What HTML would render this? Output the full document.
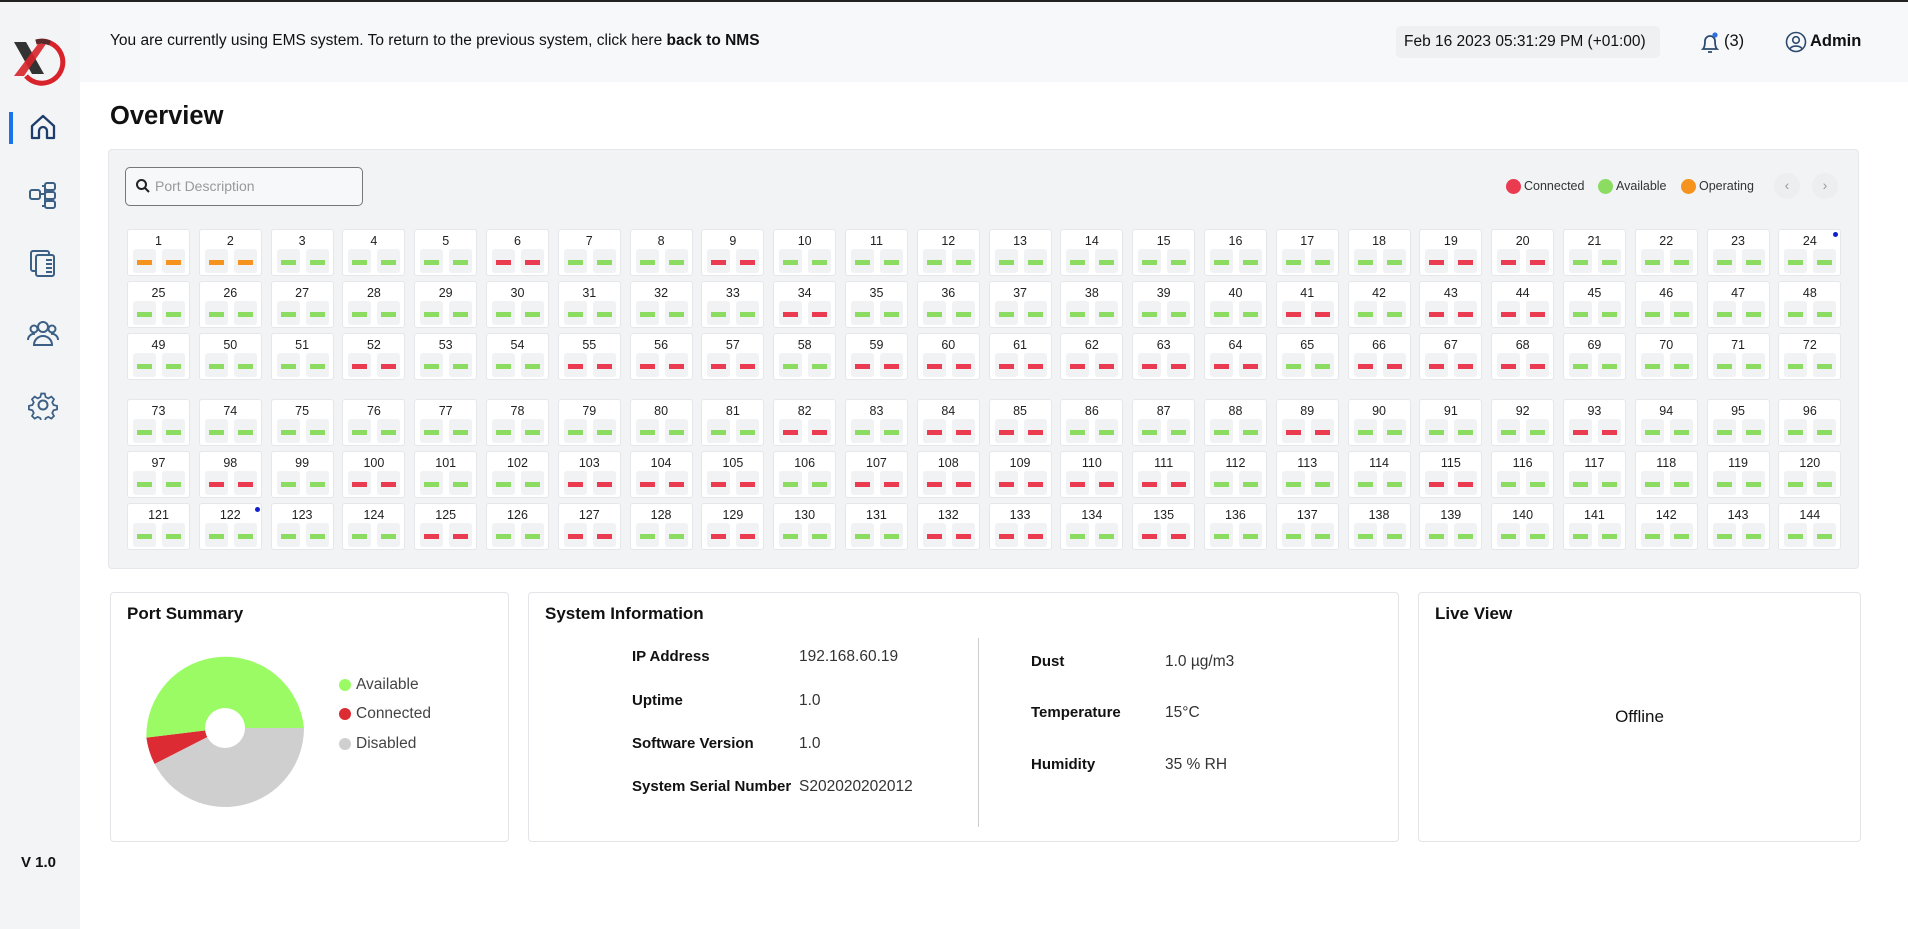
<!DOCTYPE html>
<html><head><meta charset="utf-8"><style>
*{box-sizing:border-box;margin:0;padding:0}
body{width:1908px;height:927px;overflow:hidden;background:#fff;font-family:"Liberation Sans",sans-serif;color:#111;position:relative;border-top:2px solid #222}
.side{position:absolute;left:0;top:0;width:80px;height:927px;background:#f3f4f6}
.top{position:absolute;left:80px;top:0;width:1828px;height:80px;background:#f7f8fa}
.abs{position:absolute}
.grid{position:absolute;left:127px;display:grid;grid-template-columns:repeat(24,63px);column-gap:8.8px}
.c{position:relative;width:63px;height:47px;background:#fff;border:1px solid #e6e7ea;border-radius:3px;font-size:12.5px;text-align:center;padding-top:4px;color:#222}
.c i{position:absolute;top:19px;width:23px;height:24px;background:#f1f2f4;border-radius:3px}
.c i:nth-of-type(1){left:5px}.c i:nth-of-type(2){left:34px}
.c i::after{content:"";position:absolute;left:4px;top:11px;width:15px;height:5px;background:#8cdc62}
.c.r i::after{background:#ea3b50}.c.o i::after{background:#f5931e}
.panel{position:absolute;background:#fff;border:1px solid #e3e4e7;border-radius:4px}
.h{position:absolute;font-size:17px;font-weight:bold}
.t{position:absolute;font-size:15.5px}
.b{font-weight:bold}
</style></head><body>
<div class="side"></div>
<div class="top"></div>
<svg class="abs" style="left:12px;top:34px" width="56" height="50" viewBox="0 0 56 50">
<path d="M24 6 A21 21 0 1 1 14 40" fill="none" stroke="#d8232a" stroke-width="5"/>
<path d="M24 6 A21 21 0 0 1 38 7" fill="none" stroke="#5a2a2a" stroke-width="5"/>
<path d="M2 6 L14 6 L32 38 L20 38 Z" fill="#333"/>
<path d="M26 8 L34 8 L12 40 L2 40 Z" fill="#d8232a" opacity=".9"/>
</svg>
<div class="abs" style="left:9px;top:110px;width:4px;height:32px;background:#1a73e8"></div>
<svg class="abs" style="left:28px;top:110px" width="30" height="30" viewBox="0 0 30 30"><path d="M4 14 L15 4 L26 14 V26 H19 V19 a4 4 0 0 0 -8 0 V26 H4 Z" fill="none" stroke="#1f3d6b" stroke-width="2.3" stroke-linejoin="round"/></svg>
<svg class="abs" style="left:28px;top:178px" width="30" height="30" viewBox="0 0 30 30" fill="none" stroke="#3b5f85" stroke-width="2"><rect x="2" y="10" width="10" height="9" rx="2"/><rect x="17" y="3" width="10" height="7" rx="2"/><rect x="17" y="12" width="10" height="7" rx="2"/><rect x="17" y="21" width="10" height="7" rx="2"/><path d="M12 14 H17 M14 6 H17 V26 H14"/></svg>
<svg class="abs" style="left:28px;top:246px" width="30" height="30" viewBox="0 0 30 30" fill="none" stroke="#3b5f85" stroke-width="2"><rect x="3" y="3" width="18" height="20" rx="2"/><rect x="8" y="7" width="18" height="21" rx="2" fill="#f3f4f6"/><path d="M18 12 H24 M18 16 H24 M18 20 H24 M18 24 H24"/></svg>
<svg class="abs" style="left:26px;top:316px" width="34" height="30" viewBox="0 0 34 30" fill="none" stroke="#3b5f85" stroke-width="2"><circle cx="17" cy="9" r="5"/><path d="M8 27 a9 9 0 0 1 18 0 Z"/><circle cx="8" cy="11" r="3.5"/><circle cx="26" cy="11" r="3.5"/><path d="M2 22 a6 6 0 0 1 7 -6 M32 22 a6 6 0 0 0 -7 -6"/></svg>
<svg class="abs" style="left:28px;top:388px" width="30" height="30" viewBox="0 0 30 30" fill="none" stroke="#3b5f85" stroke-width="2"><circle cx="15" cy="15" r="4.5"/><path d="M13 2 h4 l1 4 l3 1.5 l3.5-2 l3 3 l-2 3.5 l1.5 3 l4 1 v4 l-4 1 l-1.5 3 l2 3.5 l-3 3 l-3.5-2 l-3 1.5 l-1 4 h-4 l-1-4 l-3-1.5 l-3.5 2 l-3-3 l2-3.5 l-1.5-3 l-4-1 v-4 l4-1 l1.5-3 l-2-3.5 l3-3 l3.5 2 l3-1.5 Z" transform="translate(15 15) scale(.88) translate(-15 -15)"/></svg>
<div class="t b" style="left:21px;top:852px;font-size:15px">V 1.0</div>

<div class="t" style="left:110px;top:30px;font-size:15.5px">You are currently using EMS system. To return to the previous system, click here <b>back to NMS</b></div>
<div class="abs" style="left:1396px;top:24px;width:264px;height:32px;background:#eef0f2;border-radius:5px;font-size:15.5px;padding:7px 0 0 8px">Feb 16 2023 05:31:29 PM (+01:00)</div>
<svg class="abs" style="left:1698px;top:29px" width="24" height="24" viewBox="0 0 24 24" fill="none" stroke="#2d4a6e" stroke-width="1.8"><path d="M5 18 Q7 16 7 10 a5 5 0 0 1 10 0 Q17 16 19 18 Z M10 21 h4"/><circle cx="17" cy="4" r="2.6" fill="#2f6fe4" stroke="none"/></svg>
<div class="t" style="left:1724px;top:30px;font-size:16.5px">(3)</div>
<svg class="abs" style="left:1785px;top:29px" width="22" height="22" viewBox="0 0 22 22" fill="none" stroke="#2d4a6e" stroke-width="1.6"><circle cx="11" cy="11" r="9.5"/><circle cx="11" cy="9" r="3.3"/><path d="M5 17.5 a7 5 0 0 1 12 0"/></svg>
<div class="t b" style="left:1810px;top:30px;font-size:16.5px">Admin</div>

<div class="h" style="left:110px;top:100px;font-size:25.5px">Overview</div>

<div class="abs" style="left:108px;top:147px;width:1751px;height:420px;background:#f2f3f5;border:1px solid #e6e7ea;border-radius:4px"></div>
<div class="abs" style="left:125px;top:165px;width:238px;height:39px;border:1.5px solid #777;border-radius:5px;background:#f7f8f9"></div>
<svg class="abs" style="left:135px;top:176px" width="16" height="16" viewBox="0 0 16 16" fill="none" stroke="#222" stroke-width="2"><circle cx="6.5" cy="6.5" r="4.5"/><path d="M10 10 L14 14"/></svg>
<div class="t" style="left:155px;top:176px;font-size:14px;color:#999">Port Description</div>
<div class="abs" style="left:1506px;top:177px;width:15px;height:15px;border-radius:50%;background:#ea3b50"></div>
<div class="t" style="left:1524px;top:177px;font-size:12.5px;color:#333">Connected</div>
<div class="abs" style="left:1598px;top:177px;width:15px;height:15px;border-radius:50%;background:#8cdc62"></div>
<div class="t" style="left:1616px;top:177px;font-size:12.5px;color:#333">Available</div>
<div class="abs" style="left:1681px;top:177px;width:15px;height:15px;border-radius:50%;background:#f5931e"></div>
<div class="t" style="left:1699px;top:177px;font-size:12.5px;color:#333">Operating</div>
<div class="abs" style="left:1774px;top:171px;width:26px;height:26px;border-radius:50%;background:#eceef0;color:#999;font-size:14px;text-align:center;line-height:25px">‹</div>
<div class="abs" style="left:1812px;top:171px;width:26px;height:26px;border-radius:50%;background:#eceef0;color:#999;font-size:14px;text-align:center;line-height:25px">›</div>

<div class="grid" style="top:227px;row-gap:5px">
<div class="c o">1<i></i><i></i></div><div class="c o">2<i></i><i></i></div><div class="c">3<i></i><i></i></div><div class="c">4<i></i><i></i></div><div class="c">5<i></i><i></i></div><div class="c r">6<i></i><i></i></div><div class="c">7<i></i><i></i></div><div class="c">8<i></i><i></i></div><div class="c r">9<i></i><i></i></div><div class="c">10<i></i><i></i></div><div class="c">11<i></i><i></i></div><div class="c">12<i></i><i></i></div><div class="c">13<i></i><i></i></div><div class="c">14<i></i><i></i></div><div class="c">15<i></i><i></i></div><div class="c">16<i></i><i></i></div><div class="c">17<i></i><i></i></div><div class="c">18<i></i><i></i></div><div class="c r">19<i></i><i></i></div><div class="c r">20<i></i><i></i></div><div class="c">21<i></i><i></i></div><div class="c">22<i></i><i></i></div><div class="c">23<i></i><i></i></div><div class="c">24<i></i><i></i></div>
<div class="c">25<i></i><i></i></div><div class="c">26<i></i><i></i></div><div class="c">27<i></i><i></i></div><div class="c">28<i></i><i></i></div><div class="c">29<i></i><i></i></div><div class="c">30<i></i><i></i></div><div class="c">31<i></i><i></i></div><div class="c">32<i></i><i></i></div><div class="c">33<i></i><i></i></div><div class="c r">34<i></i><i></i></div><div class="c">35<i></i><i></i></div><div class="c">36<i></i><i></i></div><div class="c">37<i></i><i></i></div><div class="c">38<i></i><i></i></div><div class="c">39<i></i><i></i></div><div class="c">40<i></i><i></i></div><div class="c r">41<i></i><i></i></div><div class="c">42<i></i><i></i></div><div class="c r">43<i></i><i></i></div><div class="c r">44<i></i><i></i></div><div class="c">45<i></i><i></i></div><div class="c">46<i></i><i></i></div><div class="c">47<i></i><i></i></div><div class="c">48<i></i><i></i></div>
<div class="c">49<i></i><i></i></div><div class="c">50<i></i><i></i></div><div class="c">51<i></i><i></i></div><div class="c r">52<i></i><i></i></div><div class="c">53<i></i><i></i></div><div class="c">54<i></i><i></i></div><div class="c r">55<i></i><i></i></div><div class="c r">56<i></i><i></i></div><div class="c r">57<i></i><i></i></div><div class="c">58<i></i><i></i></div><div class="c r">59<i></i><i></i></div><div class="c r">60<i></i><i></i></div><div class="c r">61<i></i><i></i></div><div class="c r">62<i></i><i></i></div><div class="c r">63<i></i><i></i></div><div class="c r">64<i></i><i></i></div><div class="c">65<i></i><i></i></div><div class="c r">66<i></i><i></i></div><div class="c r">67<i></i><i></i></div><div class="c r">68<i></i><i></i></div><div class="c">69<i></i><i></i></div><div class="c">70<i></i><i></i></div><div class="c">71<i></i><i></i></div><div class="c">72<i></i><i></i></div>
</div>
<div class="abs" style="left:1833px;top:230px;width:5px;height:5px;border-radius:50%;background:#1020d0"></div>

<div class="grid" style="top:397px;row-gap:5px">
<div class="c">73<i></i><i></i></div><div class="c">74<i></i><i></i></div><div class="c">75<i></i><i></i></div><div class="c">76<i></i><i></i></div><div class="c">77<i></i><i></i></div><div class="c">78<i></i><i></i></div><div class="c">79<i></i><i></i></div><div class="c">80<i></i><i></i></div><div class="c">81<i></i><i></i></div><div class="c r">82<i></i><i></i></div><div class="c">83<i></i><i></i></div><div class="c r">84<i></i><i></i></div><div class="c r">85<i></i><i></i></div><div class="c">86<i></i><i></i></div><div class="c">87<i></i><i></i></div><div class="c">88<i></i><i></i></div><div class="c r">89<i></i><i></i></div><div class="c">90<i></i><i></i></div><div class="c">91<i></i><i></i></div><div class="c">92<i></i><i></i></div><div class="c r">93<i></i><i></i></div><div class="c">94<i></i><i></i></div><div class="c">95<i></i><i></i></div><div class="c">96<i></i><i></i></div>
<div class="c">97<i></i><i></i></div><div class="c r">98<i></i><i></i></div><div class="c">99<i></i><i></i></div><div class="c r">100<i></i><i></i></div><div class="c">101<i></i><i></i></div><div class="c">102<i></i><i></i></div><div class="c r">103<i></i><i></i></div><div class="c r">104<i></i><i></i></div><div class="c r">105<i></i><i></i></div><div class="c">106<i></i><i></i></div><div class="c r">107<i></i><i></i></div><div class="c r">108<i></i><i></i></div><div class="c r">109<i></i><i></i></div><div class="c r">110<i></i><i></i></div><div class="c r">111<i></i><i></i></div><div class="c">112<i></i><i></i></div><div class="c">113<i></i><i></i></div><div class="c">114<i></i><i></i></div><div class="c r">115<i></i><i></i></div><div class="c">116<i></i><i></i></div><div class="c">117<i></i><i></i></div><div class="c">118<i></i><i></i></div><div class="c">119<i></i><i></i></div><div class="c">120<i></i><i></i></div>
<div class="c">121<i></i><i></i></div><div class="c">122<i></i><i></i></div><div class="c">123<i></i><i></i></div><div class="c">124<i></i><i></i></div><div class="c r">125<i></i><i></i></div><div class="c">126<i></i><i></i></div><div class="c r">127<i></i><i></i></div><div class="c">128<i></i><i></i></div><div class="c r">129<i></i><i></i></div><div class="c">130<i></i><i></i></div><div class="c">131<i></i><i></i></div><div class="c r">132<i></i><i></i></div><div class="c r">133<i></i><i></i></div><div class="c">134<i></i><i></i></div><div class="c r">135<i></i><i></i></div><div class="c">136<i></i><i></i></div><div class="c">137<i></i><i></i></div><div class="c">138<i></i><i></i></div><div class="c">139<i></i><i></i></div><div class="c">140<i></i><i></i></div><div class="c">141<i></i><i></i></div><div class="c">142<i></i><i></i></div><div class="c">143<i></i><i></i></div><div class="c">144<i></i><i></i></div>
</div>
<div class="abs" style="left:255px;top:505px;width:5px;height:5px;border-radius:50%;background:#1020d0"></div>

<div class="panel" style="left:110px;top:590px;width:399px;height:250px"></div>
<div class="h" style="left:127px;top:602px">Port Summary</div>
<svg class="abs" style="left:145px;top:646px" width="160" height="160" viewBox="-80 -80 160 160">
<path d="M0 0 L79 0 A79 79 0 0 1 -70.4 35.9 Z" fill="#cfcfcf"/>
<path d="M0 0 L-70.4 35.9 A79 79 0 0 1 -78.6 9.6 Z" fill="#dd2b34"/>
<path d="M0 0 L-78.6 9.6 A79 79 0 0 1 79 0 Z" fill="#9afb64"/>
<circle cx="0" cy="0" r="20" fill="#fff"/>
</svg>
<div class="abs" style="left:339px;top:677px;width:12px;height:12px;border-radius:50%;background:#9afb64"></div>
<div class="t" style="left:356px;top:674px;color:#444">Available</div>
<div class="abs" style="left:339px;top:706px;width:12px;height:12px;border-radius:50%;background:#dd2b34"></div>
<div class="t" style="left:356px;top:703px;color:#444">Connected</div>
<div class="abs" style="left:339px;top:736px;width:12px;height:12px;border-radius:50%;background:#cfcfcf"></div>
<div class="t" style="left:356px;top:733px;color:#444">Disabled</div>

<div class="panel" style="left:528px;top:590px;width:871px;height:250px"></div>
<div class="h" style="left:545px;top:602px">System Information</div>
<div class="t b" style="left:632px;top:646px;font-size:15px">IP Address</div><div class="t" style="left:799px;top:646px;color:#333">192.168.60.19</div>
<div class="t b" style="left:632px;top:690px;font-size:15px">Uptime</div><div class="t" style="left:799px;top:690px;color:#333">1.0</div>
<div class="t b" style="left:632px;top:733px;font-size:15px">Software Version</div><div class="t" style="left:799px;top:733px;color:#333">1.0</div>
<div class="t b" style="left:632px;top:776px;font-size:15px">System Serial Number</div><div class="t" style="left:799px;top:776px;color:#333">S202020202012</div>
<div class="abs" style="left:978px;top:636px;width:1px;height:189px;background:#ccc"></div>
<div class="t b" style="left:1031px;top:651px;font-size:15px">Dust</div><div class="t" style="left:1165px;top:651px;color:#333">1.0 µg/m3</div>
<div class="t b" style="left:1031px;top:702px;font-size:15px">Temperature</div><div class="t" style="left:1165px;top:702px;color:#333">15°C</div>
<div class="t b" style="left:1031px;top:754px;font-size:15px">Humidity</div><div class="t" style="left:1165px;top:754px;color:#333">35 % RH</div>

<div class="panel" style="left:1418px;top:590px;width:443px;height:250px"></div>
<div class="h" style="left:1435px;top:602px">Live View</div>
<div class="t" style="left:1418px;top:705px;width:443px;text-align:center;font-size:17px">Offline</div>
</body></html>
